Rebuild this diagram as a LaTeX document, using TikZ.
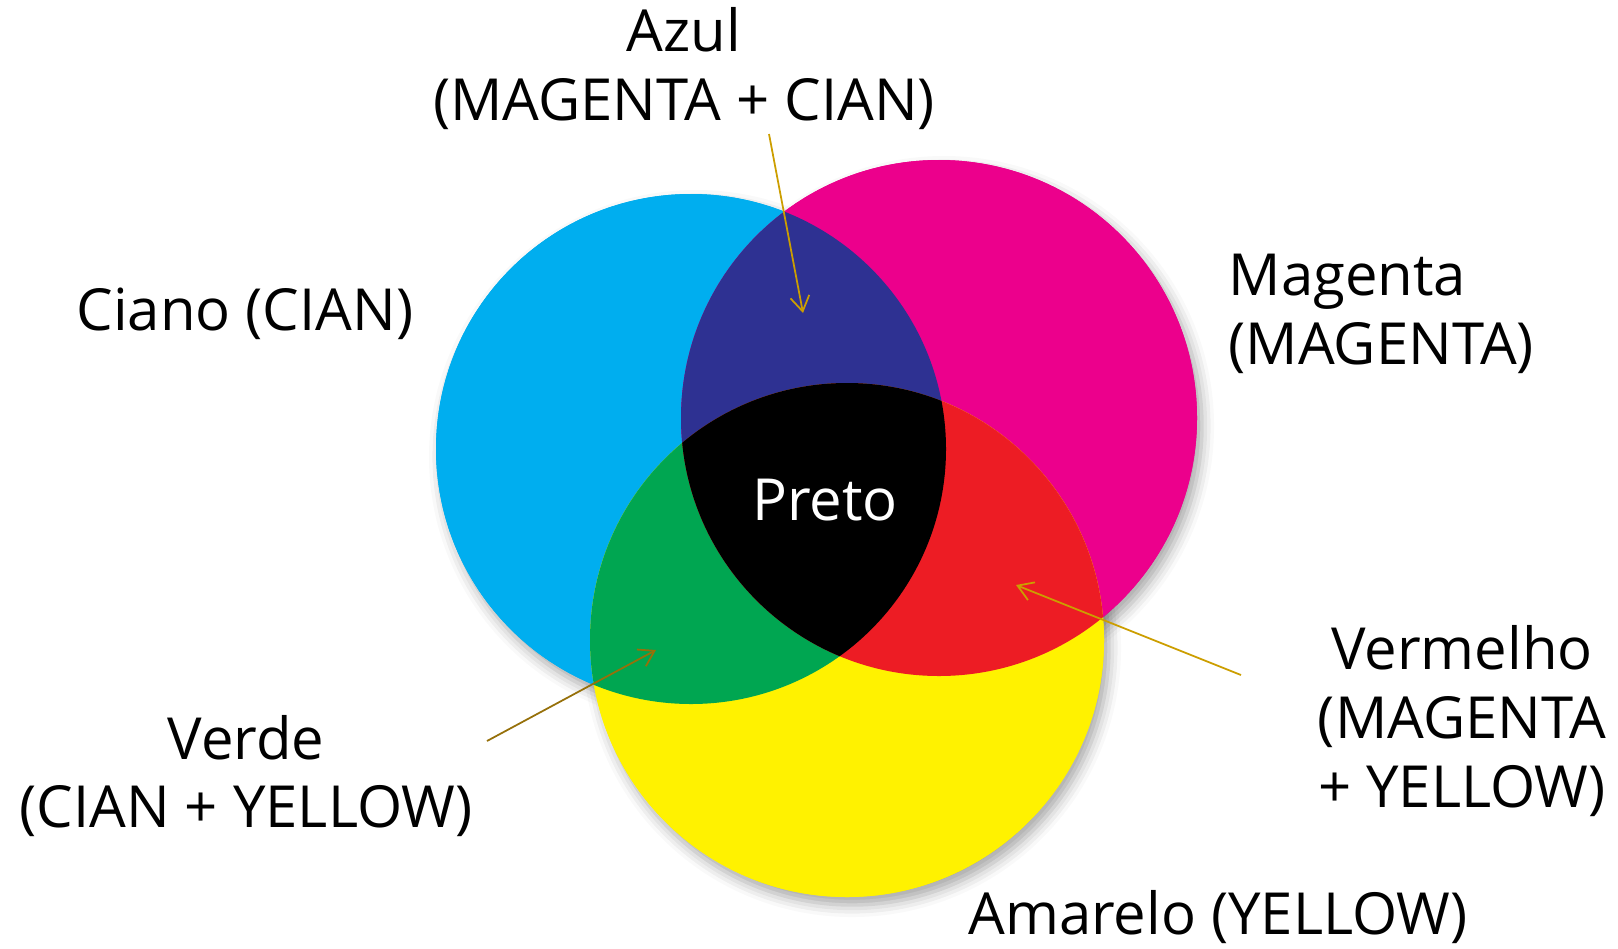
\documentclass[tikz,border=0pt]{standalone}
\usepackage{fontspec}
\setmainfont{Open Sans}
\usetikzlibrary{arrows.meta,shadows.blur}

\definecolor{inkcyan}{RGB}{0,174,239}
\definecolor{inkmagenta}{RGB}{236,0,140}
\definecolor{inkyellow}{RGB}{255,242,0}
\definecolor{inkblue}{RGB}{46,49,146}
\definecolor{inkred}{RGB}{237,28,36}
\definecolor{inkgreen}{RGB}{0,166,81}
\definecolor{pointgold}{RGB}{204,158,0}
\definecolor{pointbrown}{RGB}{150,112,10}

\begin{document}
\begin{tikzpicture}[x=0.01cm,y=-0.01cm,
  txt/.style={inner sep=0pt,align=center,font=\fontsize{16.5}{19.6}\selectfont},
  pointer/.style={line width=0.5pt,-{Straight Barb[length=1.5mm,width=1.9mm]}},
  soft/.style={blur shadow={shadow xshift=0.5mm,shadow yshift=-0.8mm,shadow opacity=35,shadow blur radius=1.2mm}}]
\useasboundingbox (0,0) rectangle (1618,948);

% centres of the three ink circles
\coordinate (cyan) at (691,449);
\coordinate (magenta) at (939,418);
\coordinate (yellow) at (847,640);

% Circles with their shadows, then filled again on top
\fill[inkcyan,soft] (cyan) circle (255);
\fill[inkmagenta,soft] (magenta) circle (258);
\fill[inkyellow,soft] (yellow) circle (257);
\fill[inkcyan] (cyan) circle (255);
\fill[inkmagenta] (magenta) circle (258);
\fill[inkyellow] (yellow) circle (257);

% Overlaps of two inks
\begin{scope}
  \clip (cyan) circle (255);
  \fill[inkblue] (magenta) circle (258);
  \fill[inkgreen] (yellow) circle (257);
\end{scope}
\begin{scope}
  \clip (magenta) circle (258);
  \fill[inkred] (yellow) circle (257);
\end{scope}

% All three inks
\begin{scope}
  \clip (cyan) circle (255);
  \clip (magenta) circle (258);
  \fill[black] (yellow) circle (257);
\end{scope}

% Labels
\node[txt] (azul) at (684,69) {Azul\\(MAGENTA + CIAN)};
\node[txt] (ciano) at (245,314) {Ciano (CIAN)};
\node[txt,anchor=west,align=left] (magentalbl) at (1228,314) {Magenta\\(MAGENTA)};
\node[txt] (vermelho) at (1462,721) {Vermelho\\(MAGENTA\\+ YELLOW)};
\node[txt] (verde) at (246,776) {Verde\\(CIAN + YELLOW)};
\node[txt] (amarelo) at (1218,917) {Amarelo (YELLOW)};
\node[txt,text=white] (preto) at (825,500) {Preto};

% Arrows into the mixed areas
\coordinate (azul-from) at (769,134);
\coordinate (azul-to) at (803,313);
\coordinate (verde-from) at (487,741);
\coordinate (verde-to) at (656,650);
\coordinate (vermelho-from) at (1241,675);
\coordinate (vermelho-to) at (1016,585);
\draw[pointer,pointgold] (azul-from) -- (azul-to);
\draw[pointer,pointbrown] (verde-from) -- (verde-to);
\draw[pointer,pointgold] (vermelho-from) -- (vermelho-to);

\end{tikzpicture}
\end{document}
